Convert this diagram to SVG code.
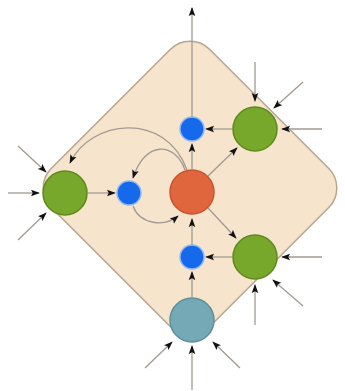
<svg xmlns="http://www.w3.org/2000/svg" width="345" height="391" viewBox="0 0 345 391">
<defs>
<marker id="ah" viewBox="0 0 10 8" refX="9" refY="4" markerWidth="9" markerHeight="7.5" markerUnits="userSpaceOnUse" orient="auto">
<path d="M0,0.3 L10,4 L0,7.7 L2,4 z" fill="#111"/>
</marker>
</defs>
<style>
.bg{fill:#f7e4cd;stroke:#b6a58f;stroke-width:1.5}
.c{fill:none;stroke:#a09a92;stroke-width:1.3;marker-end:url(#ah)}
.g{fill:#78a82b;stroke:#5e8a1c;stroke-width:1.5}
.o{fill:#e0663e;stroke:#c8552f;stroke-width:1.5}
.b{fill:#1769ec;stroke:#8fb8f2;stroke-width:1.5}
.t{fill:#75a9b6;stroke:#5d9099;stroke-width:1.5}
</style>
<rect class="bg" x="-112" y="-112" width="224" height="224" rx="28" transform="translate(190,188) rotate(45)"/>
<g id="connectors">
<path class="c" d="M192,117 L192,8"/>
<path class="c" d="M192,169 L192,144"/>
<path class="c" d="M232,129 L206,129"/>
<path class="c" d="M208,176 L237,148"/>
<path class="c" d="M255,62 L255,101"/>
<path class="c" d="M303,82 L274,108"/>
<path class="c" d="M322,129 L282,129"/>
<path class="c" d="M18,146 L46,172"/>
<path class="c" d="M8,193 L39,193"/>
<path class="c" d="M18,240 L46,213"/>
<path class="c" d="M88,193 L115,193"/>
<path class="c" d="M185,170 C175,142 145,140 133,178"/>
<path class="c" d="M187,170 C165,110 90,120 70,163"/>
<path class="c" d="M133,206 C140,225 165,227 178,216"/>
<path class="c" d="M192,245 L192,219"/>
<path class="c" d="M208,208 L236,238"/>
<path class="c" d="M232,257 L206,257"/>
<path class="c" d="M322,257 L282,257"/>
<path class="c" d="M303,306 L273,280"/>
<path class="c" d="M255,325 L255,285"/>
<path class="c" d="M192,297 L192,272"/>
<path class="c" d="M145,368 L172,342"/>
<path class="c" d="M192,390 L192,346"/>
<path class="c" d="M240,368 L213,342"/>
</g>
<g id="orange"><circle class="o" cx="192" cy="192" r="22"/></g>
<g id="blue-top"><circle class="b" cx="192" cy="129" r="12"/></g>
<g id="blue-left"><circle class="b" cx="129" cy="193" r="12"/></g>
<g id="blue-bottom"><circle class="b" cx="192" cy="257" r="12"/></g>
<g id="green-top-right"><circle class="g" cx="255" cy="129" r="22"/></g>
<g id="green-left"><circle class="g" cx="65" cy="193" r="22"/></g>
<g id="green-bottom-right"><circle class="g" cx="255" cy="257" r="22"/></g>
<g id="teal"><circle class="t" cx="192" cy="320" r="22"/></g>
</svg>
